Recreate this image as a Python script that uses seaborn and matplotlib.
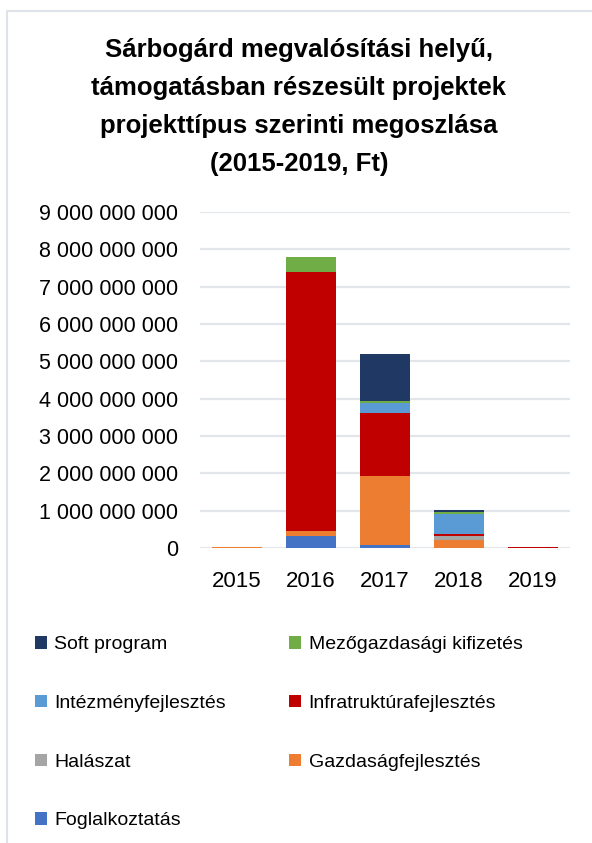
import matplotlib.pyplot as plt
import matplotlib.ticker as mticker
from matplotlib.lines import Line2D
from matplotlib.patches import Patch
import pandas as pd
import seaborn as sns

YEARS = ['2015', '2016', '2017', '2018', '2019']
# stack order from top to bottom (legend order)
TYPES = ['Soft program', 'Mezőgazdasági kifizetés', 'Intézményfejlesztés',
         'Infratruktúrafejlesztés', 'Halászat', 'Gazdaságfejlesztés',
         'Foglalkoztatás']
SOFT = [0, 0, 1.26e9, 0.036e9, 0]
MEZO = [0, 0.40e9, 0.05e9, 0.071e9, 0]
INTEZMENY = [0, 0, 0.265e9, 0.527e9, 0]
INFRA = [0, 6.96e9, 1.69e9, 0.0625e9, 0.010e9]
HALASZAT = [0, 0, 0, 0.107e9, 0.008e9]
GAZDASAG = [0.04e9, 0.135e9, 1.85e9, 0.205e9, 0]
FOGLALKOZTATAS = [0, 0.31e9, 0.07e9, 0, 0]
COLORS = ['#203864', '#70AD47', '#5B9BD5', '#C00000', '#A5A5A5', '#ED7D31',
          '#4472C4']

series = [SOFT, MEZO, INTEZMENY, INFRA, HALASZAT, GAZDASAG, FOGLALKOZTATAS]
rows = []
for name, vals in zip(TYPES, series):
    for y, v in zip(YEARS, vals):
        rows.append([y, name, v])
df = pd.DataFrame(rows, columns=['year', 'type', 'value'])
df['year'] = pd.Categorical(df['year'], categories=YEARS, ordered=True)

sns.set_style('white')
plt.rcParams['font.family'] = ['Liberation Sans', 'DejaVu Sans']
plt.rcParams['text.color'] = 'black'

fig = plt.figure(figsize=(5.92, 8.43), dpi=100)
ax = fig.add_axes([200 / 592, 1 - 548 / 843, 370 / 592, 336 / 843])

palette = dict(zip(TYPES, COLORS))
sns.histplot(data=df, x='year', hue='type', weights='value',
             hue_order=TYPES, multiple='stack', discrete=True, shrink=0.68,
             palette=palette, alpha=1, linewidth=0, legend=False, ax=ax)
# hide empty segments so they do not show as hairlines
for p in ax.patches:
    if p.get_height() <= 0:
        p.set_visible(False)

ax.set_ylim(0, 9e9)
ax.set_xlim(-0.5, 4.5)
ax.set_yticks([i * 1e9 for i in range(10)])
ax.yaxis.set_major_formatter(mticker.FuncFormatter(
    lambda v, p: f'{int(v):,}'.replace(',', ' ')))
ax.grid(axis='y', color='#E2E6EA', linewidth=1.6)
ax.set_axisbelow(True)
for s in ax.spines.values():
    s.set_visible(False)
ax.tick_params(axis='both', length=0, labelsize=15.5, colors='black')
ax.tick_params(axis='x', labelsize=16)
ax.tick_params(axis='y', pad=16)
ax.tick_params(axis='x', pad=16.5)
ax.set_xlabel('')
ax.set_ylabel('')

fig.text(0.505, 1 - 38 / 843,
         'Sárbogárd megvalósítási helyű,\ntámogatásban részesült projektek\n'
         'projekttípus szerinti megoszlása\n(2015-2019, Ft)',
         ha='center', va='top', fontsize=18.5, fontweight='bold',
         linespacing=1.74, color='black')

handles = {t: Patch(facecolor=c, edgecolor='none') for t, c in zip(TYPES, COLORS)}
order = ['Soft program', 'Intézményfejlesztés', 'Halászat', 'Foglalkoztatás',
         'Mezőgazdasági kifizetés', 'Infratruktúrafejlesztés',
         'Gazdaságfejlesztés']
leg = fig.legend([handles[t] for t in order], order, ncol=2, frameon=False,
                 loc='upper left', bbox_to_anchor=(35 / 592, 1 - 636 / 843),
                 fontsize=14, handlelength=0.62, handleheight=0.62,
                 handletextpad=0.38, labelspacing=2.14, columnspacing=3.25,
                 borderpad=0, borderaxespad=0)
for t in leg.get_texts():
    t.set_color('black')

# chart border
fig.add_artist(Line2D([7 / 592, 1], [1 - 11 / 843, 1 - 11 / 843],
                      color='#DDE3E8', linewidth=1.5))
fig.add_artist(Line2D([7 / 592, 7 / 592], [0, 1 - 11 / 843],
                      color='#DDE3E8', linewidth=1.5))

fig.savefig('out.png', dpi=100)
